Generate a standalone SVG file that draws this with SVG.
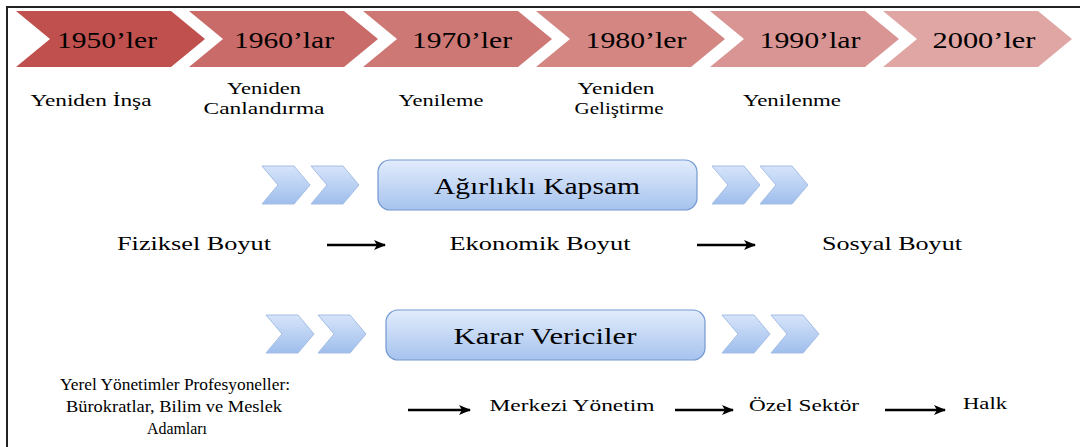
<svg xmlns="http://www.w3.org/2000/svg" width="1080" height="447" viewBox="0 0 1080 447">
<defs>
<linearGradient id="blueBox" x1="0" y1="0" x2="0" y2="1">
<stop offset="0" stop-color="#e2ecfc"/>
<stop offset="1" stop-color="#a6c3ee"/>
</linearGradient>
<linearGradient id="blueChev" x1="0" y1="0" x2="0" y2="1">
<stop offset="0" stop-color="#d6e4fa"/>
<stop offset="1" stop-color="#9fbeec"/>
</linearGradient>
<marker id="arr" markerWidth="12" markerHeight="10" refX="11" refY="5" orient="auto" markerUnits="userSpaceOnUse">
<path d="M0,0 L12,5 L0,10 L3,5 Z" fill="#000"/>
</marker>
<path id="bch" d="M0,0 L32,0 L48,19 L32,38 L0,38 L16,19 Z"/>
</defs>
<style>
.yr{font-size:24px}
.lb{font-size:16px}
.md{font-size:18.5px}
.bx{font-size:24px}
.bc{fill:url(#blueChev);stroke:#a4bde3;stroke-width:1}
.box{fill:url(#blueBox);stroke:#7399d0;stroke-width:1.2}
.con{stroke:#000;stroke-width:2.5;fill:none;marker-end:url(#arr)}
</style>
<rect width="1080" height="447" fill="#fff"/>
<path d="M7,447 L7,7 L1080,7" fill="none" stroke="#222" stroke-width="2"/>

<g font-family="Liberation Serif, 'Times New Roman', serif" text-anchor="middle" fill="#000">
<g id="y1950"><path d="M16,11 L171,11 L205,39 L171,67 L16,67 L50,39 Z" fill="#c0504d"/><text class="yr" x="107" y="48" textLength="100" lengthAdjust="spacingAndGlyphs">1950’ler</text></g>
<g id="y1960"><path d="M189,11 L344,11 L378,39 L344,67 L189,67 L223,39 Z" fill="#c96b68"/><text class="yr" x="284" y="48" textLength="100" lengthAdjust="spacingAndGlyphs">1960’lar</text></g>
<g id="y1970"><path d="M363,11 L518,11 L552,39 L518,67 L363,67 L397,39 Z" fill="#cd7875"/><text class="yr" x="462" y="48" textLength="100" lengthAdjust="spacingAndGlyphs">1970’ler</text></g>
<g id="y1980"><path d="M536,11 L691,11 L725,39 L691,67 L536,67 L570,39 Z" fill="#d48683"/><text class="yr" x="636" y="48" textLength="101" lengthAdjust="spacingAndGlyphs">1980’ler</text></g>
<g id="y1990"><path d="M710,11 L865,11 L899,39 L865,67 L710,67 L744,39 Z" fill="#d99593"/><text class="yr" x="810" y="48" textLength="101" lengthAdjust="spacingAndGlyphs">1990’lar</text></g>
<g id="y2000"><path d="M883,11 L1038,11 L1072,39 L1038,67 L883,67 L917,39 Z" fill="#dfa6a4"/><text class="yr" x="984" y="48" textLength="103" lengthAdjust="spacingAndGlyphs">2000’ler</text></g>

<g id="l1950"><text class="lb" x="91" y="106" textLength="121" lengthAdjust="spacingAndGlyphs">Yeniden İnşa</text></g>
<g id="l1960"><text class="lb" x="264" y="94" textLength="74" lengthAdjust="spacingAndGlyphs">Yeniden</text><text class="lb" x="264" y="114" textLength="121" lengthAdjust="spacingAndGlyphs">Canlandırma</text></g>
<g id="l1970"><text class="lb" x="441" y="106" textLength="85" lengthAdjust="spacingAndGlyphs">Yenileme</text></g>
<g id="l1980"><text class="lb" x="616" y="94" textLength="77" lengthAdjust="spacingAndGlyphs">Yeniden</text><text class="lb" x="619" y="114" textLength="89" lengthAdjust="spacingAndGlyphs">Geliştirme</text></g>
<g id="l1990"><text class="lb" x="792" y="106" textLength="98" lengthAdjust="spacingAndGlyphs">Yenilenme</text></g>

<g id="chev1">
<use href="#bch" x="262" y="166" class="bc"/>
<use href="#bch" x="311" y="166" class="bc"/>
<use href="#bch" x="712" y="166" class="bc"/>
<use href="#bch" x="760" y="166" class="bc"/>
</g>
<g id="agirlikli"><rect class="box" x="378" y="160" width="319" height="50" rx="12"/><text class="bx" x="537" y="194" textLength="206" lengthAdjust="spacingAndGlyphs">Ağırlıklı Kapsam</text></g>

<g id="fiziksel"><text class="md" x="194" y="250" textLength="154" lengthAdjust="spacingAndGlyphs">Fiziksel Boyut</text></g>
<g id="ekonomik"><text class="md" x="540" y="250" textLength="181" lengthAdjust="spacingAndGlyphs">Ekonomik Boyut</text></g>
<g id="sosyal"><text class="md" x="892" y="250" textLength="140" lengthAdjust="spacingAndGlyphs">Sosyal Boyut</text></g>

<g id="chev2">
<use href="#bch" x="266" y="315" class="bc"/>
<use href="#bch" x="318" y="315" class="bc"/>
<use href="#bch" x="722" y="315" class="bc"/>
<use href="#bch" x="771" y="315" class="bc"/>
</g>
<g id="karar"><rect class="box" x="386" y="310" width="319" height="50" rx="12"/><text class="bx" x="545" y="344" textLength="183" lengthAdjust="spacingAndGlyphs">Karar Vericiler</text></g>

<g id="yerel"><text class="lb" x="175" y="390" textLength="230" lengthAdjust="spacingAndGlyphs">Yerel Yönetimler Profesyoneller:</text><text class="lb" x="174" y="412" textLength="216" lengthAdjust="spacingAndGlyphs">Bürokratlar, Bilim ve Meslek</text><text class="lb" x="177" y="434" textLength="60" lengthAdjust="spacingAndGlyphs">Adamları</text></g>
<g id="merkezi"><text class="lb" x="572" y="411" textLength="165" lengthAdjust="spacingAndGlyphs">Merkezi Yönetim</text></g>
<g id="ozel"><text class="lb" x="804" y="411" textLength="110" lengthAdjust="spacingAndGlyphs">Özel Sektör</text></g>
<g id="halk"><text class="lb" x="985" y="409" textLength="44" lengthAdjust="spacingAndGlyphs">Halk</text></g>
</g>

<g id="connectors">
<line class="con" x1="327" y1="245" x2="385" y2="245"/>
<line class="con" x1="697" y1="245" x2="755" y2="245"/>
<line class="con" x1="408" y1="410" x2="470" y2="410"/>
<line class="con" x1="675" y1="410" x2="733" y2="410"/>
<line class="con" x1="885" y1="410" x2="945" y2="410"/>
</g>
</svg>
